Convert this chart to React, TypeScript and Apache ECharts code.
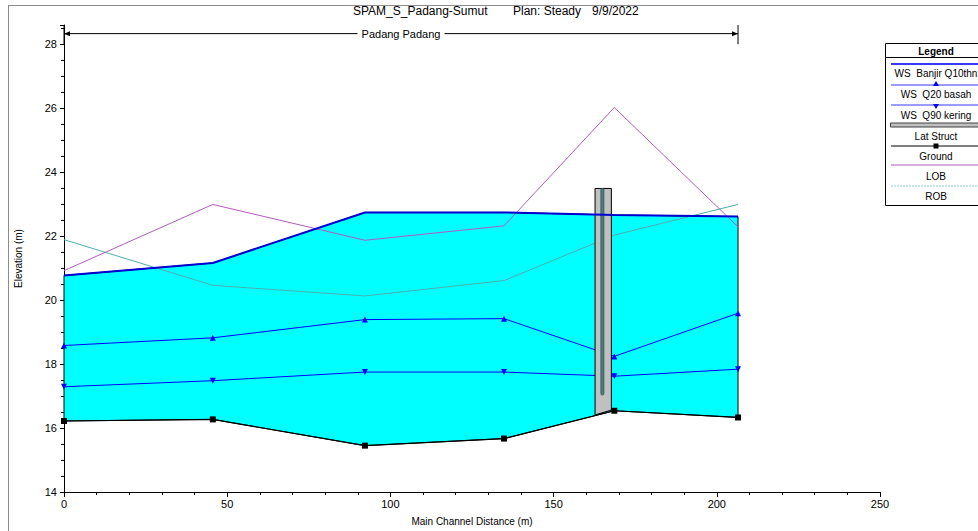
import React, { useEffect, useRef } from "react";
import * as echarts from "echarts";

// ---- Data ----
const stations = [0, 45.6, 92.2, 134.8, 168.6, 206.5];
const wsQ10 = [20.77, 21.16, 22.74, 22.74, 22.66, 22.61];
const wsQ20 = [18.58, 18.82, 19.39, 19.42, 18.24, 19.59];
const wsQ90 = [17.29, 17.48, 17.75, 17.75, 17.62, 17.84];
const ground = [16.22, 16.27, 15.45, 15.67, 16.54, 16.33];
const lob = [20.92, 22.99, 21.87, 22.32, 26.02, 22.29];
const rob = [21.89, 20.46, 20.13, 20.61, 22.03, 22.99];

// lateral structure
const latStructX = [162.7, 167.7];
const latStructTop = 23.49;
const latStructBottom = [16.41, 16.56];
const latWeirX = [164.5, 165.4];
const latWeirBottom = 17.03;

// reach annotation
const reachName = "Padang Padang";
const reachRange = [0, 206.5];
const reachY = 28.33;
const reachTickY = [28.0, 28.6];

// axes
const xRange = [0, 250];
const xInterval = 50;
const yRange = [14, 28.6];
const yInterval = 2;

const titleParts = ["SPAM_S_Padang-Sumut", "Plan: Steady", "9/9/2022"];
const legendItems = [
  "WS  Banjir Q10thn",
  "WS  Q20 basah",
  "WS  Q90 kering",
  "Lat Struct",
  "Ground",
  "LOB",
  "ROB",
];

const FONT = "'Liberation Sans', Arial, sans-serif";
const BLUE = "#0000FF";
const LOB_C = "#B45AC0";
const ROB_C = "#4AAFAF";

const pts = (ys: number[]) => stations.map((x, i) => [x, ys[i]]);

export default function App() {
  const ref = useRef<HTMLDivElement>(null);
  useEffect(() => {
    if (!ref.current) return;
    const chart = echarts.init(ref.current, undefined, { renderer: "svg" });

    // legend graphics
    const lx = 885, lw = 102, lcx = 936;
    const lineYs = [64, 85, 105, 125, 146, 165, 186];
    const textYs = [73.5, 94, 115, 136, 156, 176, 196];
    const legendChildren: any[] = [
      { type: "rect", shape: { x: lx + 0.5, y: 43.5, width: lw, height: 162 }, style: { fill: "#fff", stroke: "#000", lineWidth: 1 } },
      { type: "line", shape: { x1: lx, y1: 57.5, x2: lx + lw, y2: 57.5 }, style: { stroke: "#000", lineWidth: 1 } },
      { type: "text", x: lcx, y: 51.5, style: { text: "Legend", font: `bold 10px ${FONT}`, fill: "#000", align: "center", verticalAlign: "middle" } },
    ];
    legendChildren.push({ type: "line", shape: { x1: 891, y1: lineYs[0], x2: lx + lw, y2: lineYs[0] }, style: { stroke: "#3838FF", lineWidth: 2 } });
    legendChildren.push({ type: "line", shape: { x1: 891, y1: lineYs[1], x2: lx + lw, y2: lineYs[1] }, style: { stroke: "#3838FF", lineWidth: 1 } });
    legendChildren.push({ type: "polygon", shape: { points: [[lcx, lineYs[1] - 4], [lcx - 3, lineYs[1] + 1], [lcx + 3, lineYs[1] + 1]] }, style: { fill: BLUE } });
    legendChildren.push({ type: "line", shape: { x1: 891, y1: lineYs[2], x2: lx + lw, y2: lineYs[2] }, style: { stroke: "#3838FF", lineWidth: 1 } });
    legendChildren.push({ type: "polygon", shape: { points: [[lcx, lineYs[2] + 4], [lcx - 3, lineYs[2] - 1], [lcx + 3, lineYs[2] - 1]] }, style: { fill: BLUE } });
    legendChildren.push({ type: "rect", shape: { x: 890.5, y: lineYs[3] - 2, width: 97, height: 4 }, style: { fill: "#C0C0C0", stroke: "#404040", lineWidth: 1 } });
    legendChildren.push({ type: "line", shape: { x1: 891, y1: lineYs[4], x2: lx + lw, y2: lineYs[4] }, style: { stroke: "#000", lineWidth: 1 } });
    legendChildren.push({ type: "rect", shape: { x: lcx - 2.5, y: lineYs[4] - 2.5, width: 5, height: 5 }, style: { fill: "#000" } });
    legendChildren.push({ type: "line", shape: { x1: 891, y1: lineYs[5], x2: lx + lw, y2: lineYs[5] }, style: { stroke: LOB_C, lineWidth: 1 } });
    legendChildren.push({ type: "line", shape: { x1: 891, y1: lineYs[6], x2: lx + lw, y2: lineYs[6] }, style: { stroke: "#8CCFCF", lineWidth: 1, lineDash: [2, 1] } });
    legendItems.forEach((t, i) => {
      legendChildren.push({ type: "text", x: lcx, y: textYs[i], style: { text: t, font: `10px ${FONT}`, fill: "#000", align: "center", verticalAlign: "middle" } });
    });

    const option: any = {
      animation: false,
      grid: { left: 64, right: 98, top: 25, bottom: 35 },
      xAxis: {
        type: "value",
        min: xRange[0],
        max: xRange[1],
        interval: xInterval,
        name: "Main Channel Distance (m)",
        nameLocation: "middle",
        nameGap: 24,
        nameTextStyle: { fontSize: 10, fontFamily: FONT, color: "#000" },
        axisLine: { show: true, lineStyle: { color: "#000", width: 1 } },
        axisTick: { show: true, inside: false, length: 5, lineStyle: { color: "#000" } },
        minorTick: { show: true, splitNumber: 5, length: 3, lineStyle: { color: "#000" } },
        axisLabel: { fontSize: 11, fontFamily: FONT, color: "#000", margin: 6 },
        splitLine: { show: false },
        minorSplitLine: { show: false },
      },
      yAxis: {
        type: "value",
        min: yRange[0],
        max: yRange[1],
        interval: yInterval,
        name: "Elevation (m)",
        nameLocation: "middle",
        nameGap: 41,
        nameTextStyle: { fontSize: 10, fontFamily: FONT, color: "#000" },
        axisLine: { show: true, lineStyle: { color: "#000", width: 1 } },
        axisTick: { show: true, inside: false, length: 4, lineStyle: { color: "#000" } },
        minorTick: { show: true, splitNumber: 4, length: 3, lineStyle: { color: "#000" } },
        axisLabel: { fontSize: 11, fontFamily: FONT, color: "#000", margin: 7, showMaxLabel: false },
        splitLine: { show: false },
        minorSplitLine: { show: false },
      },
      graphic: [
        { type: "text", x: 353, y: 11, style: { text: titleParts[0], font: `12px ${FONT}`, fill: "#000", align: "left", verticalAlign: "middle" } },
        { type: "text", x: 513, y: 11, style: { text: titleParts[1], font: `12px ${FONT}`, fill: "#000", align: "left", verticalAlign: "middle" } },
        { type: "text", x: 592, y: 11, style: { text: titleParts[2], font: `12px ${FONT}`, fill: "#000", align: "left", verticalAlign: "middle" } },
        { type: "group", z: 100, children: legendChildren },
      ],
      series: [
        {
          type: "custom",
          name: "fill",
          z: 1,
          silent: true,
          data: [[0, wsQ10[0]]],
          renderItem: (_p: any, api: any) => {
            const top = stations.map((x, i) => api.coord([x, wsQ10[i]]));
            const bot = stations.map((x, i) => api.coord([x, ground[i]])).reverse();
            return {
              type: "polygon",
              shape: { points: [...top, ...bot] },
              style: { fill: "#00FFFF", stroke: "#000", lineWidth: 1 },
            };
          },
        },
        { type: "line", name: "ROB", z: 2, data: pts(rob), showSymbol: false, lineStyle: { color: ROB_C, width: 1 }, silent: true },
        { type: "line", name: "LOB", z: 2, data: pts(lob), showSymbol: false, lineStyle: { color: LOB_C, width: 1 }, silent: true },
        {
          type: "line", name: "WS Q20 basah", z: 3, data: pts(wsQ20), symbol: "triangle", symbolSize: 6,
          lineStyle: { color: BLUE, width: 1 }, itemStyle: { color: BLUE }, silent: true,
        },
        {
          type: "line", name: "WS Q90 kering", z: 3, data: pts(wsQ90), symbol: "triangle", symbolRotate: 180, symbolSize: 6,
          lineStyle: { color: BLUE, width: 1 }, itemStyle: { color: BLUE }, silent: true,
        },
        {
          type: "line", name: "Ground", z: 3, data: pts(ground), symbol: "rect", symbolSize: 6,
          lineStyle: { color: "#000", width: 1.2 }, itemStyle: { color: "#000" }, silent: true,
        },
        {
          type: "custom",
          name: "Lat Struct",
          z: 4,
          silent: true,
          data: [[latStructX[0], latStructTop]],
          renderItem: (_p: any, api: any) => {
            const a = api.coord([latStructX[0], latStructTop]);
            const b = api.coord([latStructX[1], latStructTop]);
            const c = api.coord([latStructX[1], latStructBottom[1]]);
            const d = api.coord([latStructX[0], latStructBottom[0]]);
            const w0 = api.coord([latWeirX[0], latStructTop]);
            const w1 = api.coord([latWeirX[1], latWeirBottom]);
            return {
              type: "group",
              children: [
                { type: "polygon", shape: { points: [a, b, c, d] }, style: { fill: "#C0C0C0", stroke: "#000", lineWidth: 1 } },
                { type: "rect", shape: { x: w0[0], y: w0[1], width: w1[0] - w0[0], height: w1[1] - w0[1], r: 1.5 }, style: { fill: "#2F8A8A", stroke: "#555", lineWidth: 1 } },
              ],
            };
          },
        },
        {
          type: "line", name: "WS Banjir Q10thn", z: 5, data: pts(wsQ10), showSymbol: false,
          lineStyle: { color: "#0000D0", width: 2 }, silent: true,
        },
        {
          type: "custom",
          name: "reach",
          z: 6,
          silent: true,
          data: [[reachRange[0], reachY]],
          renderItem: (_p: any, api: any) => {
            const l = api.coord([reachRange[0], reachY]);
            const r = api.coord([reachRange[1], reachY]);
            const lt = api.coord([reachRange[0], reachTickY[1]]);
            const lb = api.coord([reachRange[0], reachTickY[0]]);
            const rt = api.coord([reachRange[1], reachTickY[1]]);
            const rb = api.coord([reachRange[1], reachTickY[0]]);
            const mx = (l[0] + r[0]) / 2;
            const y = l[1];
            return {
              type: "group",
              children: [
                { type: "line", shape: { x1: l[0], y1: y, x2: r[0], y2: y }, style: { stroke: "#000", lineWidth: 1 } },
                { type: "line", shape: { x1: lt[0], y1: lt[1], x2: lb[0], y2: lb[1] }, style: { stroke: "#000", lineWidth: 1 } },
                { type: "line", shape: { x1: rt[0], y1: rt[1], x2: rb[0], y2: rb[1] }, style: { stroke: "#000", lineWidth: 1 } },
                { type: "polygon", shape: { points: [[l[0], y], [l[0] + 6, y - 2.5], [l[0] + 6, y + 2.5]] }, style: { fill: "#000" } },
                { type: "polygon", shape: { points: [[r[0], y], [r[0] - 6, y - 2.5], [r[0] - 6, y + 2.5]] }, style: { fill: "#000" } },
                {
                  type: "text", x: mx, y: y,
                  style: { text: reachName, font: `11px ${FONT}`, fill: "#000", align: "center", verticalAlign: "middle", backgroundColor: "#fff", padding: [1, 4] },
                },
              ],
            };
          },
        },
      ],
    };
    chart.setOption(option);
    return () => chart.dispose();
  }, []);

  return (
    <div style={{ position: "fixed", left: 0, top: 0, width: 978, height: 531, background: "#fff", overflow: "hidden" }}>
      <div
        style={{
          position: "absolute",
          left: 8,
          top: 5,
          width: 1100,
          height: 700,
          borderLeft: "1px solid #8C8C8C",
          borderTop: "1px solid #8C8C8C",
          boxSizing: "border-box",
        }}
      />
      <div ref={ref} style={{ position: "absolute", left: 0, top: 0, width: 978, height: 531 }} />
    </div>
  );
}
